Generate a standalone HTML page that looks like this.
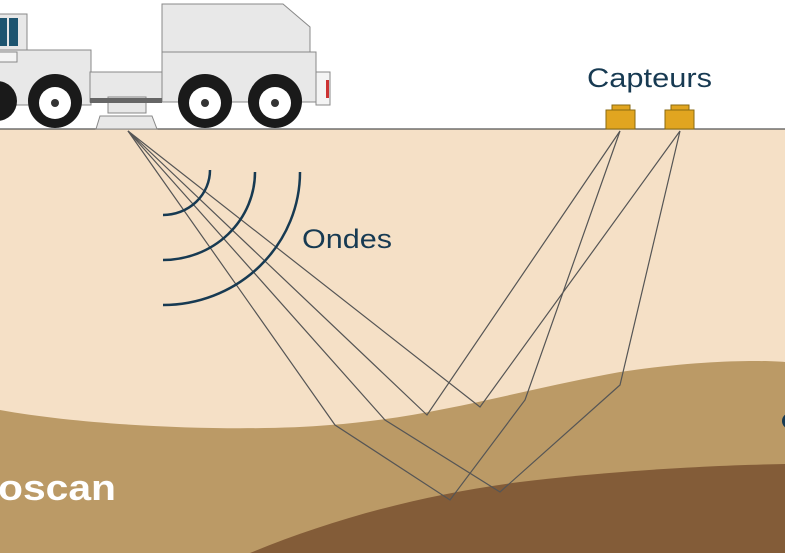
<!DOCTYPE html>
<html><head><meta charset="utf-8"><style>html,body{margin:0;padding:0;background:#fff}svg{display:block}</style></head>
<body>
<svg width="785" height="553" viewBox="0 0 785 553" xmlns="http://www.w3.org/2000/svg">
<rect width="785" height="553" fill="#fff"/>
<rect y="129" width="785" height="424" fill="#f5e0c6"/>
<path d="M0,410 C100,428 250,432 330,425 C430,418 520,390 620,372 C700,360 760,360 785,362 L785,553 L0,553 Z" fill="#bb9a66"/>
<path d="M250,553 C330,520 420,495 520,482 C620,470 720,465 785,464 L785,553 Z" fill="#835c38"/>
<line x1="0" y1="129" x2="785" y2="129" stroke="#555" stroke-width="1.2"/>
<g stroke="#888" stroke-width="1" fill="#e8e8e8">
<rect x="-5" y="14" width="32" height="40" fill="#e8e8e8"/>
<rect x="-5" y="50" width="96" height="55"/>
<rect x="90" y="72" width="72" height="30"/>
<path d="M162,4 L283,4 L310,27 L310,52 L162,52 Z"/>
<rect x="162" y="52" width="154" height="50"/>
<rect x="316" y="72" width="14" height="33" fill="#f4f4f4"/>
<rect x="108" y="97" width="38" height="16"/>
<path d="M96,129 L100,116 L152,116 L157,129 Z"/>
</g>
<rect x="-5" y="18" width="12" height="28" fill="#1e5570"/>
<rect x="9" y="18" width="9" height="28" fill="#1e5570"/>
<rect x="-5" y="52" width="22" height="10" fill="#f4f4f4" stroke="#888"/>
<rect x="90" y="98" width="72" height="5" fill="#666"/>
<rect x="326" y="80" width="3" height="18" fill="#c33"/>
<g fill="#1a1a1a">
<circle cx="55" cy="101" r="27"/><circle cx="205" cy="101" r="27"/><circle cx="275" cy="101" r="27"/><circle cx="-3" cy="101" r="20"/>
</g>
<g fill="#fff"><circle cx="55" cy="103" r="16"/><circle cx="205" cy="103" r="16"/><circle cx="275" cy="103" r="16"/></g>
<g fill="#333"><circle cx="55" cy="103" r="4"/><circle cx="205" cy="103" r="4"/><circle cx="275" cy="103" r="4"/></g>
<g fill="#e1a520" stroke="#8a6a10" stroke-width="1">
<rect x="606" y="110" width="29" height="19"/><rect x="612" y="105" width="18" height="5"/>
<rect x="665" y="110" width="29" height="19"/><rect x="671" y="105" width="18" height="5"/>
</g>
<g stroke="#555" stroke-width="1.2" fill="none">
<polyline points="128,131 427,415 620,131"/>
<polyline points="128,131 480,407 680,131"/>
<polyline points="128,131 335,425 450,500 525,400 620,131"/>
<polyline points="128,131 385,420 500,492 620,385 680,131"/>
</g>
<g stroke="#173a52" stroke-width="2.5" fill="none">
<path d="M210,170 A47,45 0 0 1 163,215"/>
<path d="M255,172 A92,88 0 0 1 163,260"/>
<path d="M300,172 A137,133 0 0 1 163,305"/>
</g>
<text x="302" y="248" font-family="Liberation Sans, sans-serif" font-size="27" fill="#173a52" textLength="90" lengthAdjust="spacingAndGlyphs">Ondes</text>
<text x="587" y="87" font-family="Liberation Sans, sans-serif" font-size="27" fill="#173a52" textLength="125" lengthAdjust="spacingAndGlyphs">Capteurs</text>
<text x="-2" y="500" font-family="Liberation Sans, sans-serif" font-size="36" font-weight="bold" fill="#fff" textLength="118" lengthAdjust="spacingAndGlyphs">oscan</text>
<circle cx="790" cy="421" r="8" fill="#173a52"/>
</svg>
</body></html>
